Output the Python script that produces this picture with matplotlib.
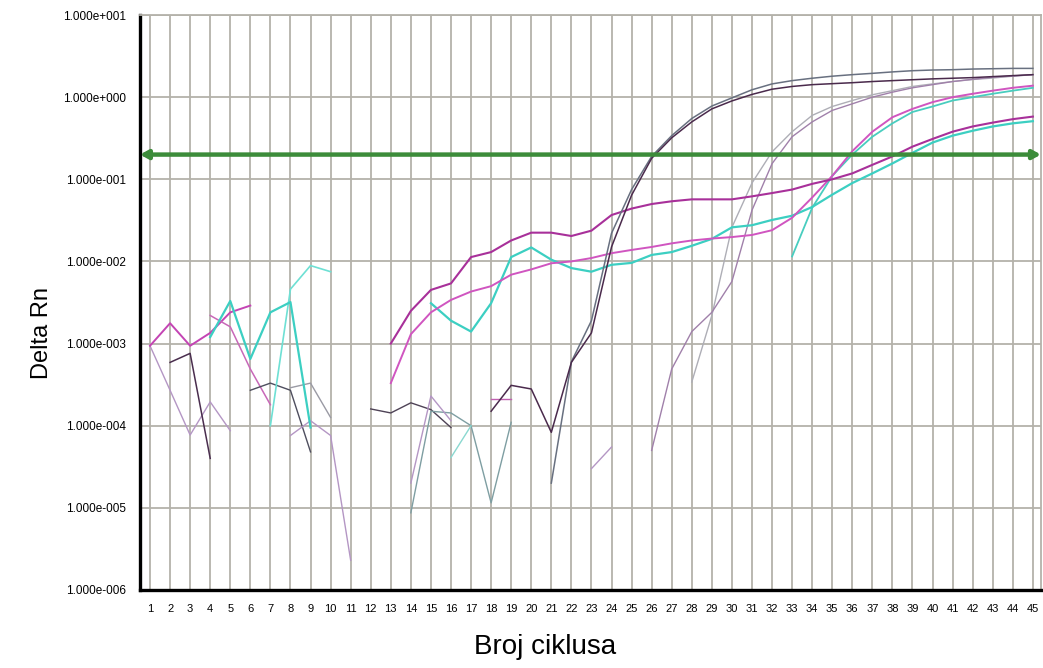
import numpy as np
import matplotlib
matplotlib.use('Agg')
import matplotlib.pyplot as plt

plt.rcParams['font.family'] = ['Liberation Sans', 'DejaVu Sans']

# ciklusi
cycles = np.arange(1, 46)
threshold = 0.2

# krivulje: (prvi ciklus, vrijednosti Delta Rn)
mag_a = (1, [9.4e-4, 1.77e-3, 9.4e-4, 1.35e-3, 2.4e-3, 2.9e-3])
mag_b = (4, [2.2e-3, 1.6e-3, 4.9e-4, 1.8e-4])
lav_c = (1, [9.4e-4, 2.7e-4, 7.7e-5, 1.95e-4, 8.7e-5])
dark_d = (2, [5.9e-4, 7.6e-4, 4.0e-5])
cyan_e = (4, [1.2e-3, 3.3e-3, 6.5e-4, 2.4e-3, 3.2e-3, 9.5e-5])
cyan_f = (7, [1.0e-4, 4.6e-3, 8.9e-3, 7.5e-3])
dark_g = (6, [2.7e-4, 3.3e-4, 2.7e-4, 4.8e-5])
gray_h = (8, [2.9e-4, 3.3e-4, 1.26e-4])
lav_i = (8, [7.6e-5, 1.15e-4, 7.6e-5, 2.3e-6])
dark_j = (12, [1.6e-4, 1.43e-4, 1.9e-4, 1.57e-4, 9.5e-5])
teal_k = (14, [8.7e-6, 1.5e-4, 1.43e-4, 1.0e-4, 1.15e-5, 1.1e-4])
lav_l = (14, [2.0e-5, 2.3e-4, 1.15e-4])
cyan_m = (16, [4.1e-5, 1.0e-4])
mag_n = (18, [2.1e-4, 2.1e-4])
lav_o = (23, [3.0e-5, 5.5e-5])

d1 = (18, [1.5e-4, 3.1e-4, 2.8e-4, 8.3e-5, 5.9e-4, 1.35e-3, 0.015, 0.064, 0.18,
           0.32, 0.50, 0.72, 0.90, 1.08, 1.25, 1.35, 1.42, 1.46, 1.50, 1.55,
           1.59, 1.63, 1.67, 1.70, 1.73, 1.78, 1.83, 1.88])
g1 = (21, [2.0e-5, 6.0e-4, 1.9e-3, 0.022, 0.075, 0.19, 0.34, 0.55, 0.78, 0.98,
           1.23, 1.45, 1.59, 1.70, 1.80, 1.88, 1.95, 2.03, 2.10, 2.14, 2.16,
           2.20, 2.22, 2.24, 2.24])
l2 = (26, [5.0e-5, 4.9e-4, 1.4e-3, 2.4e-3, 5.7e-3, 0.042, 0.155, 0.33, 0.50,
           0.69, 0.83, 1.0, 1.15, 1.3, 1.42, 1.55, 1.65, 1.75, 1.81, 1.88])
l1 = (28, [3.4e-4, 2.2e-3, 0.026, 0.09, 0.216, 0.38, 0.60, 0.77, 0.91, 1.07,
           1.2, 1.35, 1.45, 1.55, 1.64, 1.71, 1.80, 1.88])
m1 = (13, [1.0e-3, 2.5e-3, 4.5e-3, 5.4e-3, 0.0113, 0.013, 0.018, 0.0224, 0.0224,
           0.0204, 0.0237, 0.0367, 0.044, 0.050, 0.054, 0.057, 0.057, 0.057,
           0.062, 0.068, 0.075, 0.088, 0.10, 0.118, 0.15, 0.19, 0.25, 0.31,
           0.38, 0.44, 0.49, 0.54, 0.58])
m2 = (13, [3.3e-4, 1.3e-3, 2.4e-3, 3.4e-3, 4.3e-3, 5.0e-3, 6.9e-3, 8.0e-3, 9.5e-3,
           0.010, 0.011, 0.0126, 0.0138, 0.015, 0.0166, 0.018, 0.019, 0.0198,
           0.021, 0.024, 0.034, 0.06, 0.11, 0.22, 0.38, 0.57, 0.72, 0.87, 1.0,
           1.1, 1.2, 1.3, 1.38])
c1 = (15, [3.1e-3, 1.9e-3, 1.4e-3, 3.1e-3, 0.0113, 0.0148, 0.0105, 0.0083, 0.0075,
           0.0091, 0.0096, 0.012, 0.013, 0.0155, 0.0188, 0.026, 0.0276, 0.032,
           0.036, 0.046, 0.065, 0.09, 0.118, 0.156, 0.21, 0.28, 0.34, 0.39,
           0.44, 0.48, 0.51])
c2 = (33, [0.0115, 0.045, 0.11, 0.2, 0.33, 0.48, 0.66, 0.77, 0.91, 1.0, 1.1,
           1.2, 1.3])

# boje i debljine linija
styles = [
    (lav_c, '#b496c4', 1.0), (dark_d, '#4a2e4e', 1.1), (mag_a, '#c444b4', 1.4),
    (mag_b, '#c868b8', 1.1), (dark_g, '#4e4e5e', 1.0), (gray_h, '#9a9aa4', 1.0),
    (lav_i, '#b496c4', 1.0), (cyan_f, '#6ee0d4', 1.2), (cyan_e, '#3ccfc2', 1.6),
    (dark_j, '#4e4256', 1.0), (teal_k, '#7e9ea2', 1.0), (lav_l, '#b496c4', 1.0),
    (cyan_m, '#8ad8d0', 1.0), (mag_n, '#c060b0', 1.0), (lav_o, '#b496c4', 1.0),
    (l1, '#aeaeb6', 1.0), (l2, '#a080aa', 1.0), (c2, '#48cdbf', 1.3),
    (c1, '#3ccfc2', 1.6), (m2, '#d055c0', 1.4), (m1, '#a8309a', 1.5),
    (g1, '#687080', 1.1), (d1, '#4a2a4c', 1.1),
]

fig = plt.figure(figsize=(10.43, 6.68), dpi=100)
ax = fig.add_axes([0.1342, 0.1168, 0.8638, 0.8607])

for (start, vals), color, lw in styles:
    x = np.arange(start, start + len(vals))
    ax.plot(x, vals, color=color, lw=lw, zorder=3)

ax.set_yscale('log')
ax.set_ylim(1e-6, 1e1)
ax.set_xlim(0.5, 45.4)

# mreza
ax.set_xticks(cycles)
ax.set_xticklabels([str(c) for c in cycles], fontsize=8)
yt = [10.0 ** k for k in range(-6, 2)]
ax.set_yticks(yt)
ax.set_yticklabels(['1.000e%+04d' % k if k < 0 else '1.000e+%03d' % k
                    for k in range(-6, 2)], fontsize=8.5)
ax.yaxis.set_minor_locator(matplotlib.ticker.NullLocator())
ax.tick_params(axis='both', length=0)
ax.tick_params(axis='x', pad=10)
ax.tick_params(axis='y', pad=10)
ax.grid(True, which='major', color='#b4b2aa', lw=1.3, zorder=1)

for side in ['left', 'bottom']:
    ax.spines[side].set_color('black')
    ax.spines[side].set_linewidth(2.4)
for side in ['top', 'right']:
    ax.spines[side].set_color('#b4b2aa')
    ax.spines[side].set_linewidth(1.3)

# prag
ax.annotate('', xy=(1.0, threshold), xytext=(0.0, threshold),
            xycoords=ax.get_yaxis_transform(), textcoords=ax.get_yaxis_transform(),
            arrowprops=dict(arrowstyle='<|-|>,head_length=0.45,head_width=0.25',
                            color='#3c8c3a', lw=3.2, shrinkA=0, shrinkB=0),
            annotation_clip=False, zorder=4)

ax.set_ylabel('Delta Rn', fontsize=17)
ax.yaxis.set_label_coords(-0.097, 0.447)
ax.set_xlabel('Broj ciklusa', fontsize=20)
ax.xaxis.set_label_coords(0.45, -0.077)

fig.savefig('out.png', dpi=100)
